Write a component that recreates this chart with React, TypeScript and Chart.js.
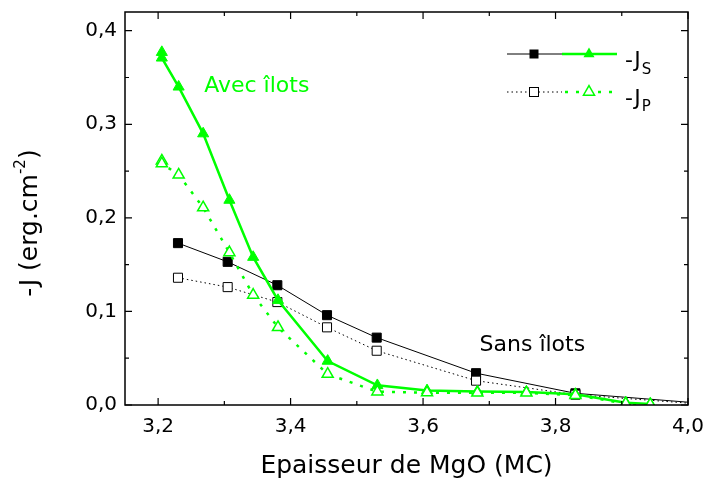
import React, { useEffect, useRef } from 'react';
import { Chart, registerables } from 'chart.js';

Chart.register(...registerables);

// ---- data ----
const xTicks = [3.2, 3.4, 3.6, 3.8, 4.0];
const xMinor = [3.3, 3.5, 3.7, 3.9];
const yTicks = [0, 0.1, 0.2, 0.3, 0.4];
const yMinor = [0.05, 0.15, 0.25, 0.35];

// Sans îlots (black)
const sansX = [3.23, 3.305, 3.38, 3.455, 3.53, 3.68, 3.83, 4.0];
const sansJS = [0.173, 0.153, 0.128, 0.096, 0.072, 0.034, 0.0125, 0.003];
const sansJP = [0.136, 0.126, 0.11, 0.083, 0.058, 0.026, 0.011, 0.002];

// Avec îlots (green)
const avecX = [3.2056, 3.2056, 3.231, 3.268, 3.3076, 3.3435, 3.381, 3.456, 3.531, 3.606, 3.682, 3.756, 3.83, 3.906, 3.943];
const avecJS = [0.377, 0.371, 0.34, 0.29, 0.219, 0.158, 0.112, 0.047, 0.021, 0.0155, 0.0145, 0.014, 0.0115, 0.0025, 0.0012];
const avecJP = [0.261, 0.258, 0.246, 0.211, 0.163, 0.1176, 0.083, 0.033, 0.0142, 0.0132, 0.013, 0.013, 0.0105, 0.0015, 0.0005];

const GREEN = '#00ff00';
const FONT = "'DejaVu Sans', sans-serif";

const toPts = (xs: number[], ys: number[]) => xs.map((x, i) => ({ x, y: ys[i] }));
const fmt = (v: number) => v.toFixed(1).replace('.', ',');

function drawTri(ctx: CanvasRenderingContext2D, x: number, y: number, r: number) {
  ctx.beginPath();
  for (let k = 0; k < 3; k++) {
    const a = (k * 2 * Math.PI) / 3;
    const px = x + Math.sin(a) * r;
    const py = y - Math.cos(a) * r;
    if (k === 0) ctx.moveTo(px, py);
    else ctx.lineTo(px, py);
  }
  ctx.closePath();
}

const zeroPad = (s: any) => {
  s.paddingTop = 0;
  s.paddingBottom = 0;
  s.paddingLeft = 0;
  s.paddingRight = 0;
};

const decorPlugin = {
  id: 'decor',
  afterDatasetsDraw(chart: any) {
    const { ctx, chartArea: ca, scales } = chart;
    const xs = scales.x;
    const ys = scales.y;
    ctx.save();
    // frame
    ctx.strokeStyle = '#000';
    ctx.lineWidth = 1.5;
    ctx.strokeRect(ca.left, ca.top, ca.right - ca.left, ca.bottom - ca.top);
    ctx.lineWidth = 1.2;
    const tick = (vals: number[], len: number) => {
      vals.forEach((v) => {
        const px = xs.getPixelForValue(v);
        ctx.beginPath();
        ctx.moveTo(px, ca.bottom);
        ctx.lineTo(px, ca.bottom - len);
        ctx.moveTo(px, ca.top);
        ctx.lineTo(px, ca.top + len);
        ctx.stroke();
      });
    };
    const tickY = (vals: number[], len: number) => {
      vals.forEach((v) => {
        const py = ys.getPixelForValue(v);
        ctx.beginPath();
        ctx.moveTo(ca.left, py);
        ctx.lineTo(ca.left + len, py);
        ctx.moveTo(ca.right, py);
        ctx.lineTo(ca.right - len, py);
        ctx.stroke();
      });
    };
    tick(xTicks, 7);
    tick(xMinor, 4);
    tickY(yTicks, 7);
    tickY(yMinor, 4);

    // annotations
    ctx.textAlign = 'center';
    ctx.textBaseline = 'middle';
    ctx.font = `22px ${FONT}`;
    ctx.fillStyle = GREEN;
    ctx.fillText('Avec îlots', xs.getPixelForValue(3.349), ys.getPixelForValue(0.341));
    ctx.fillStyle = '#000';
    ctx.fillText('Sans îlots', xs.getPixelForValue(3.765), ys.getPixelForValue(0.064));

    // legend
    const r1 = 54;
    const r2 = 92;
    ctx.lineWidth = 1;
    ctx.strokeStyle = '#000';
    ctx.setLineDash([]);
    ctx.beginPath();
    ctx.moveTo(507, r1);
    ctx.lineTo(562, r1);
    ctx.stroke();
    ctx.fillStyle = '#000';
    ctx.fillRect(534 - 4.5, r1 - 4.5, 9, 9);
    ctx.strokeStyle = GREEN;
    ctx.lineWidth = 2.5;
    ctx.beginPath();
    ctx.moveTo(562, r1);
    ctx.lineTo(617, r1);
    ctx.stroke();
    ctx.fillStyle = GREEN;
    drawTri(ctx, 589, r1, 6.4);
    ctx.fill();

    ctx.strokeStyle = '#000';
    ctx.lineWidth = 1;
    ctx.setLineDash([1.5, 3]);
    ctx.beginPath();
    ctx.moveTo(507, r2);
    ctx.lineTo(562, r2);
    ctx.stroke();
    ctx.setLineDash([]);
    ctx.fillStyle = '#fff';
    ctx.fillRect(534 - 4.5, r2 - 4.5, 9, 9);
    ctx.strokeRect(534 - 4.5, r2 - 4.5, 9, 9);
    ctx.strokeStyle = GREEN;
    ctx.lineWidth = 2.5;
    ctx.setLineDash([3, 8]);
    ctx.beginPath();
    ctx.moveTo(565, r2);
    ctx.lineTo(617, r2);
    ctx.stroke();
    ctx.setLineDash([]);
    ctx.lineWidth = 1.5;
    ctx.fillStyle = '#fff';
    drawTri(ctx, 589, r2, 6.4);
    ctx.fill();
    ctx.stroke();

    ctx.fillStyle = '#000';
    ctx.textAlign = 'left';
    ctx.textBaseline = 'alphabetic';
    ctx.font = `22px ${FONT}`;
    ctx.fillText('-J', 625, 67);
    ctx.fillText('-J', 625, 105);
    const w = ctx.measureText('-J').width;
    ctx.font = `15px ${FONT}`;
    ctx.fillText('S', 625 + w + 1, 74);
    ctx.fillText('P', 625 + w + 1, 111);

    // y axis title with superscript
    ctx.save();
    ctx.translate(30, 223);
    ctx.rotate(-Math.PI / 2);
    ctx.textBaseline = 'middle';
    ctx.textAlign = 'left';
    const main = '-J (erg.cm';
    const sup = '-2';
    const close = ')';
    ctx.font = `25px ${FONT}`;
    const wMain = ctx.measureText(main).width;
    const wClose = ctx.measureText(close).width;
    ctx.font = `15px ${FONT}`;
    const wSup = ctx.measureText(sup).width;
    const total = wMain + wSup + wClose;
    let cx = -total / 2;
    ctx.font = `25px ${FONT}`;
    ctx.fillText(main, cx, 0);
    cx += wMain;
    ctx.font = `15px ${FONT}`;
    ctx.fillText(sup, cx, -9);
    cx += wSup;
    ctx.font = `25px ${FONT}`;
    ctx.fillText(close, cx, 0);
    ctx.restore();

    ctx.restore();
  },
};

export default function App() {
  const ref = useRef<HTMLCanvasElement | null>(null);

  useEffect(() => {
    if (!ref.current) return;
    const rad = (n: number) => Array.from({ length: n }, (_, i) => (i === n - 1 ? 0 : 6.4));
    const chart = new Chart(ref.current, {
      type: 'scatter',
      data: {
        datasets: [
          {
            label: '-J_P avec',
            data: toPts(avecX, avecJP),
            showLine: true,
            borderColor: GREEN,
            borderWidth: 2.5,
            borderDash: [3, 8],
            pointStyle: 'triangle',
            pointRadius: 6.4,
            pointBackgroundColor: '#fff',
            pointBorderColor: GREEN,
            pointBorderWidth: 1.5,
            order: 0,
          },
          {
            label: '-J_S avec',
            data: toPts(avecX, avecJS),
            showLine: true,
            borderColor: GREEN,
            borderWidth: 2.5,
            pointStyle: 'triangle',
            pointRadius: 6.4,
            pointBackgroundColor: GREEN,
            pointBorderColor: GREEN,
            pointBorderWidth: 1,
            order: 1,
          },
          {
            label: '-J_P sans',
            data: toPts(sansX, sansJP),
            showLine: true,
            borderColor: '#000',
            borderWidth: 1,
            borderDash: [1.5, 3],
            pointStyle: 'rect',
            pointRadius: rad(sansX.length),
            pointBackgroundColor: '#fff',
            pointBorderColor: '#000',
            pointBorderWidth: 1,
            order: 2,
          },
          {
            label: '-J_S sans',
            data: toPts(sansX, sansJS),
            showLine: true,
            borderColor: '#000',
            borderWidth: 1,
            pointStyle: 'rect',
            pointRadius: rad(sansX.length),
            pointBackgroundColor: '#000',
            pointBorderColor: '#000',
            pointBorderWidth: 1,
            order: 3,
          },
        ],
      },
      options: {
        animation: false,
        responsive: false,
        devicePixelRatio: 1,
        layout: { padding: { left: 0, right: 16, top: 12, bottom: 0 } },
        plugins: { legend: { display: false }, tooltip: { enabled: false } },
        scales: {
          x: {
            type: 'linear',
            min: 3.15,
            max: 4.0,
            grid: { display: false, drawTicks: false },
            border: { display: false },
            afterBuildTicks: (s: any) => {
              s.ticks = xTicks.map((v) => ({ value: v }));
            },
            afterFit: (s: any) => {
              s.height = 74;
              zeroPad(s);
            },
            ticks: {
              padding: 10,
              color: '#000',
              font: { family: FONT, size: 20 },
              callback: (v: any) => fmt(Number(v)),
            },
            title: {
              display: true,
              text: 'Epaisseur de MgO (MC)',
              color: '#000',
              font: { family: FONT, size: 25, lineHeight: 1 },
              padding: { top: 0, bottom: 0 },
            },
          },
          y: {
            type: 'linear',
            min: 0,
            max: 0.42,
            grid: { display: false, drawTicks: false },
            border: { display: false },
            afterBuildTicks: (s: any) => {
              s.ticks = yTicks.map((v) => ({ value: v }));
            },
            afterFit: (s: any) => {
              s.width = 125;
              zeroPad(s);
            },
            ticks: {
              padding: 8,
              color: '#000',
              font: { family: FONT, size: 20 },
              callback: (v: any) => fmt(Number(v)),
            },
          },
        },
      },
      plugins: [decorPlugin],
    });
    return () => chart.destroy();
  }, []);

  return (
    <div style={{ position: 'absolute', left: 0, top: 0, width: 704, height: 479, background: '#fff' }}>
      <canvas ref={ref} width={704} height={479} style={{ display: 'block' }} />
    </div>
  );
}
